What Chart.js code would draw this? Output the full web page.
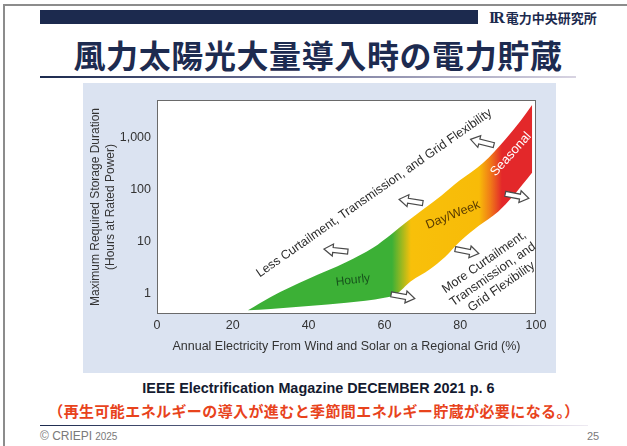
<!DOCTYPE html>
<html lang="ja">
<head>
<meta charset="utf-8">
<script src="https://cdn.jsdelivr.net/npm/chart.js@4.4.1/dist/chart.umd.min.js"></script>
<style>
body { margin: 0; width: 627px; height: 446px; background: #fff; position: relative; overflow: hidden;
       font-family: 'Noto Sans CJK JP', 'Noto Sans', sans-serif; }
.frame { position: absolute; left: 3px; top: 4px; right: 0; bottom: 0;
         border-top: 2px solid #8c8c8c; border-left: 2px solid #8c8c8c; }
.bar { position: absolute; left: 40px; top: 10px; width: 438px; height: 14px; background: #1c2a4e; }
.logo { position: absolute; left: 489px; top: 9px; font-size: 13px; line-height: 18px; color: #1c2a4e; font-weight: bold; white-space: nowrap; }
.logo .ir { font-family: 'Liberation Serif', serif; font-size: 16px; letter-spacing: -2px; margin-right: 3px; }
.title { position: absolute; left: 0; width: 636px; top: 33px; text-align: center; font-size: 32px; line-height: 42px;
         font-weight: bold; color: #1d2b50; letter-spacing: 0.6px; white-space: nowrap; }
.rule { position: absolute; left: 40px; height: 2px; }
.rule.top { top: 76px; width: 536px; background: linear-gradient(to right, #1c2a4e 0%, #6b6f94 45%, #d8d4e2 100%); }
.rule.bottom { top: 425px; width: 548px; height: 1px; background: linear-gradient(to right, #1c2a4e 0%, #7a7d9c 50%, #eeeaf2 100%); }
.panel { position: absolute; left: 83px; top: 83px; width: 473px; height: 290px; background: #dbe3f1; }
.source { position: absolute; left: 0; width: 636px; top: 376px; text-align: center; line-height: 20px; }
.source span { display: inline-block; font-family: 'Liberation Sans', Arial, sans-serif; font-weight: bold; font-size: 15px;
               color: #141a30; transform: scaleX(0.96); white-space: nowrap; }
.note { position: absolute; left: 0; width: 628px; top: 400px; text-align: center; font-size: 15px; line-height: 21px;
        font-weight: bold; color: #e8431c; letter-spacing: 0.4px; white-space: nowrap; }
.copy { position: absolute; left: 40px; top: 428px; font-family: 'Liberation Sans', Arial, sans-serif; font-size: 12px; line-height: 16px; color: #7a7a7a; }
.copy small { font-size: 10px; margin-left: 3px; }
.page { position: absolute; left: 587px; top: 428px; font-family: 'Liberation Sans', Arial, sans-serif; font-size: 11px; line-height: 16px; color: #7a7a7a; }
</style>
</head>
<body>
<div class="frame"></div>
<div class="bar"></div>
<div class="logo"><span class="ir">IR</span>電力中央研究所</div>
<div class="title">風力太陽光大量導入時の電力貯蔵</div>
<div class="rule top"></div>
<div class="panel"><canvas id="storageChart" width="473" height="290"></canvas></div>
<div class="source"><span>IEEE Electrification Magazine DECEMBER 2021 p. 6</span></div>
<div class="note">（再生可能エネルギーの導入が進むと季節間エネルギー貯蔵が必要になる。）</div>
<div class="rule bottom"></div>
<div class="copy">© CRIEPI<small>2025</small></div>
<div class="page">25</div>

<script>
// band edges, x = % of annual electricity, y = hours
const upperX = [24, 30, 40, 50, 57, 62, 66, 70, 75, 80, 86, 92, 96, 99];
const upperY = [0.47, 0.85, 1.9, 4, 7.5, 14, 24, 40, 75, 150, 320, 930, 2100, 4200];
const lowerX = [24, 30, 40, 50, 60, 63, 67, 72, 76, 80, 85, 90, 94, 99];
const lowerY = [0.47, 0.5, 0.57, 0.66, 0.82, 0.95, 1.7, 2.9, 5, 10, 20, 37, 75, 210];

const yTickValues = [1, 10, 100, 1000];

// colour stops along the x axis
const stopX = [0, 62, 67, 85, 88, 91, 100];
const stopColor = ['#3cb036', '#3cb036', '#f8c00a', '#f8bb08', '#f07a18', '#e3282a', '#e3282a'];

// text on the chart
const labelText = ['Less Curtailment, Transmission, and Grid Flexibility', 'Hourly', 'Day/Week', 'Seasonal',
                   'More Curtailment,\nTransmission, and\nGrid Flexibility'];
const labelX = [57.3, 51.7, 78.1, 93.4, 88.6];
const labelY = [84, 1.78, 32, 470, 2.3];
const labelAngle = [-35, -7, -22, -48, -35];
const labelSize = [12.5, 12, 12.5, 13, 12.5];
const labelColor = ['#2c2c2c', '#17531c', '#5b3c00', '#ffffff', '#2c2c2c'];

// hollow arrows
const arrowX = [85.8, 67.0, 47.2, 95.0, 81.8, 64.9];
const arrowY = [800, 59, 6.7, 74, 6.4, 0.87];
const arrowDir = [-1, -1, -1, 1, 1, 1];
const arrowAngle = [14, 9, 6, 11, 11, 10];

Chart.defaults.font.family = "'Liberation Sans', Arial, sans-serif";
Chart.defaults.color = '#333';

function bandGradient(context) {
    const chart = context.chart;
    if (!chart.chartArea) return null;
    const xs = chart.scales.x;
    const x0 = xs.getPixelForValue(0);
    const x1 = xs.getPixelForValue(100);
    const g = chart.ctx.createLinearGradient(x0, 0, x1, 0);
    stopX.forEach((v, i) => g.addColorStop(v / 100, stopColor[i]));
    return g;
}

function drawArrow(ctx, x, y, dir, angle) {
    ctx.save();
    ctx.translate(x, y);
    ctx.rotate(angle * Math.PI / 180);
    ctx.scale(dir, 1);
    ctx.beginPath();
    ctx.moveTo(-12, -2.5);
    ctx.lineTo(3, -2.5);
    ctx.lineTo(3, -6);
    ctx.lineTo(12, 0);
    ctx.lineTo(3, 6);
    ctx.lineTo(3, 2.5);
    ctx.lineTo(-12, 2.5);
    ctx.closePath();
    ctx.fillStyle = '#fff';
    ctx.fill();
    ctx.lineWidth = 1.2;
    ctx.strokeStyle = '#4a4a4a';
    ctx.stroke();
    ctx.restore();
}

const plotFrame = {
    id: 'plotFrame',
    beforeDraw(chart) {
        const {ctx, chartArea: a} = chart;
        ctx.save();
        ctx.fillStyle = '#fff';
        ctx.fillRect(a.left, a.top, a.width, a.height);
        ctx.restore();
    },
    afterDatasetsDraw(chart) {
        const {ctx, chartArea: a, scales} = chart;
        ctx.save();
        ctx.strokeStyle = '#6a6a6a';
        ctx.lineWidth = 1;
        ctx.strokeRect(a.left + 0.5, a.top + 0.5, a.width - 1, a.height - 1);

        labelText.forEach((t, i) => {
            const lines = t.split('\n');
            const lh = labelSize[i] * 1.2;
            ctx.save();
            ctx.translate(scales.x.getPixelForValue(labelX[i]), scales.y.getPixelForValue(labelY[i]));
            ctx.rotate(labelAngle[i] * Math.PI / 180);
            ctx.fillStyle = labelColor[i];
            ctx.font = labelSize[i] + "px 'Liberation Sans', Arial, sans-serif";
            ctx.textAlign = 'center';
            ctx.textBaseline = 'middle';
            lines.forEach((ln, j) => ctx.fillText(ln, 0, (j - (lines.length - 1) / 2) * lh));
            ctx.restore();
        });

        arrowX.forEach((v, i) => {
            drawArrow(ctx, scales.x.getPixelForValue(v), scales.y.getPixelForValue(arrowY[i]), arrowDir[i], arrowAngle[i]);
        });
        ctx.restore();
    }
};

new Chart(document.getElementById('storageChart'), {
    type: 'scatter',
    data: {
        datasets: [
            {
                label: 'upper',
                data: upperX.map((x, i) => ({x: x, y: upperY[i]})),
                showLine: true,
                fill: '+1',
                backgroundColor: bandGradient,
                borderWidth: 0,
                pointRadius: 0,
                cubicInterpolationMode: 'monotone'
            },
            {
                label: 'lower',
                data: lowerX.map((x, i) => ({x: x, y: lowerY[i]})),
                showLine: true,
                fill: false,
                borderWidth: 0,
                pointRadius: 0,
                cubicInterpolationMode: 'monotone'
            }
        ]
    },
    options: {
        responsive: false,
        animation: false,
        devicePixelRatio: 1,
        layout: { padding: { left: 5, right: 20, top: 17, bottom: 0 } },
        plugins: { legend: { display: false }, tooltip: { enabled: false } },
        scales: {
            x: {
                type: 'linear',
                min: 0,
                max: 100,
                grid: { display: false, drawTicks: false },
                border: { display: false },
                ticks: { stepSize: 20, padding: 4, font: { size: 12.5 }, color: '#333' },
                title: {
                    display: true,
                    text: 'Annual Electricity From Wind and Solar on a Regional Grid (%)',
                    font: { size: 12.5, lineHeight: 1.2 },
                    color: '#333',
                    padding: { top: 0, bottom: 19 }
                },
                afterFit(scale) { scale.height = 59; }
            },
            y: {
                type: 'logarithmic',
                min: 0.4,
                max: 5200,
                grid: { display: false, drawTicks: false },
                border: { display: false },
                afterBuildTicks(axis) { axis.ticks = yTickValues.map(v => ({value: v})); },
                ticks: {
                    padding: 6,
                    font: { size: 12.5 },
                    color: '#333',
                    callback: v => Number(v).toLocaleString('en-US')
                },
                title: {
                    display: true,
                    text: ['Maximum Required Storage Duration', '(Hours at Rated Power)'],
                    font: { size: 12, lineHeight: 1.25 },
                    color: '#333',
                    padding: { top: 0, bottom: 0 }
                },
                afterFit(scale) { scale.width = 69; }
            }
        }
    },
    plugins: [plotFrame]
});
</script>
</body>
</html>
